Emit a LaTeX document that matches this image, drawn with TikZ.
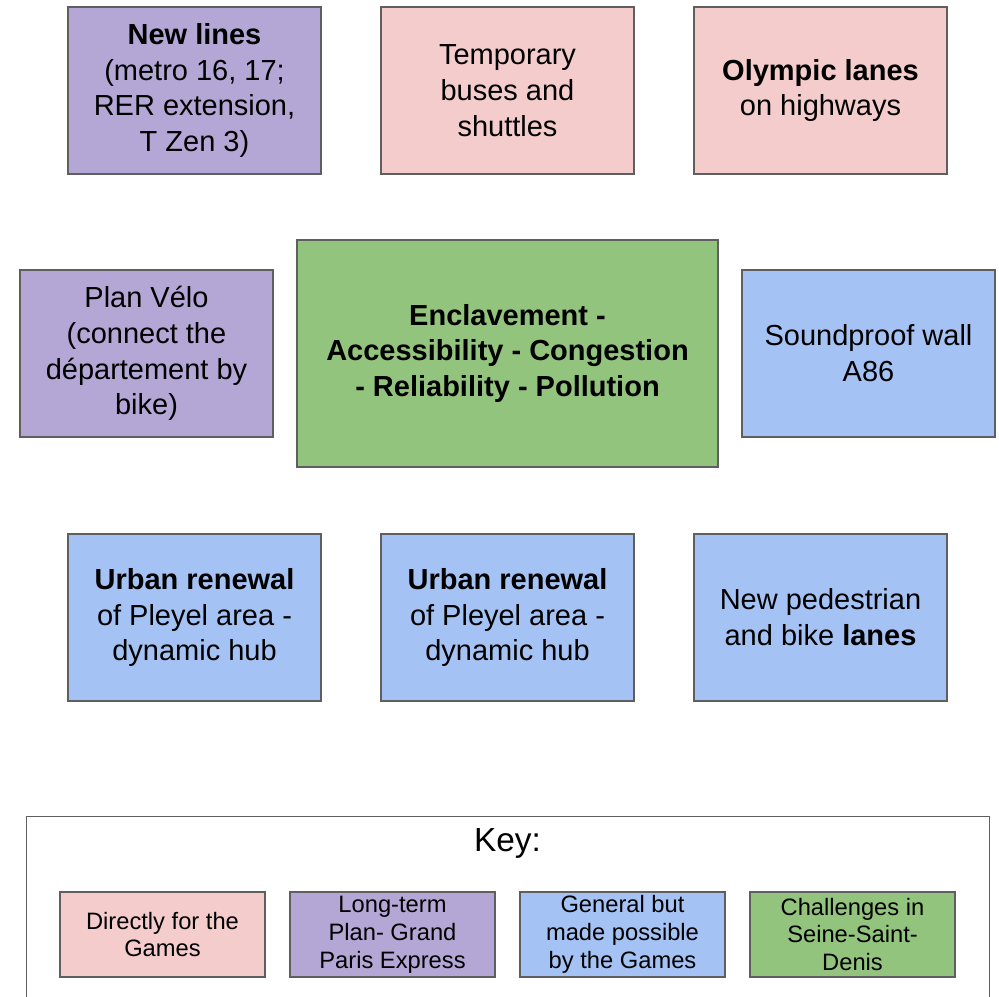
\documentclass[tikz,border=0pt]{standalone}
\usepackage{fontspec}
\setmainfont{Liberation Sans}
\definecolor{gamespink}{HTML}{F4CCCC}
\definecolor{gpepurple}{HTML}{B4A7D6}
\definecolor{generalblue}{HTML}{A4C2F4}
\definecolor{challgreen}{HTML}{93C47D}
\definecolor{boxline}{HTML}{5F5F5F}
\usetikzlibrary{positioning}
\tikzset{
  card/.style={draw=boxline, line width=0.7pt, align=center, inner sep=2pt,
    minimum width=5.06cm, minimum height=3.34cm,
    font=\fontsize{16.5}{20.4}\selectfont},
  keycard/.style={draw=boxline, line width=0.7pt, align=center, inner sep=1pt,
    minimum width=4.1cm, minimum height=1.7cm,
    font=\fontsize{13.5}{15.9}\selectfont},
}

\begin{document}
\begin{tikzpicture}[x=0.02cm, y=-0.02cm]
  \clip (0,0) rectangle (999,996);
  \useasboundingbox (0,0) rectangle (999,996);

  % top row
  \node[card, fill=gpepurple] (newlines) at (194.5,90.5) {\textbf{New lines}\\(metro 16, 17;\\RER extension,\\T Zen 3)};
  \node[card, fill=gamespink] (buses) at (507.5,90.5) {Temporary\\buses and\\shuttles};
  \node[card, fill=gamespink] (olympic) at (820.5,90.5) {\textbf{Olympic lanes}\\on highways};

  % middle row
  \node[card, fill=gpepurple] (velo) at (146.5,353.5) {Plan Vélo\\(connect the\\département by\\bike)};
  \node[card, fill=challgreen, minimum width=8.42cm, minimum height=4.54cm, font=\bfseries\fontsize{16.5}{20.4}\selectfont] (challenges) at (507.5,353.5) {Enclavement -\\Accessibility - Congestion\\- Reliability - Pollution};
  \node[card, fill=generalblue] (wall) at (868.5,353.5) {Soundproof wall\\A86};

  % bottom row
  \node[card, fill=generalblue] (pleyela) at (194.5,617.5) {\textbf{Urban renewal}\\of Pleyel area -\\dynamic hub};
  \node[card, fill=generalblue] (pleyelb) at (507.5,617.5) {\textbf{Urban renewal}\\of Pleyel area -\\dynamic hub};
  \node[card, fill=generalblue] (pedestrian) at (820.5,617.5) {New pedestrian\\and bike \textbf{lanes}};

  % key
  \node[draw=boxline, line width=0.7pt, minimum width=19.26cm, minimum height=3.9cm, anchor=north west] (keyframe) at (26,816) {};
  \node[font=\fontsize{19}{22}\selectfont] (keytitle) at (507.5,843) {Key:};
  \node[keycard, fill=gamespink] (keygames) at (162.5,934.5) {Directly for the\\Games};
  \node[keycard, fill=gpepurple] (keygpe) at (392.5,934.5) {Long-term\\Plan- Grand\\Paris Express};
  \node[keycard, fill=generalblue] (keygeneral) at (622.5,934.5) {General but\\made possible\\by the Games};
  \node[keycard, fill=challgreen] (keychall) at (852.5,934.5) {Challenges in\\Seine-Saint-\\Denis};
\end{tikzpicture}
\end{document}
